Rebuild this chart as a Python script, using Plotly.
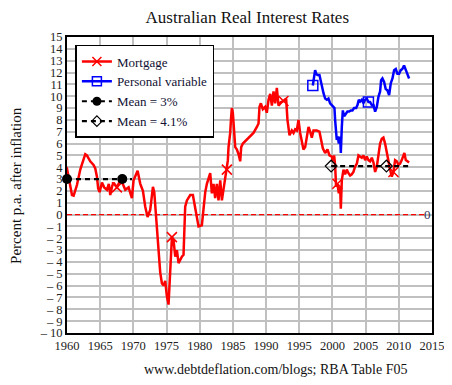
import numpy as np
import plotly.graph_objects as go

# ---------------- data ----------------
mortgage_years = [
    1959.1, 1959.6, 1960.0, 1960.4, 1960.75, 1961.0, 1961.5, 1962.0, 1962.4, 1962.75,
    1963.0, 1963.5, 1964.0, 1964.26, 1964.51, 1964.7, 1964.91, 1965.27, 1965.6, 1966.02,
    1966.3, 1966.52, 1966.8, 1967.02, 1967.52, 1968.03, 1968.4, 1968.78, 1969.28, 1969.78,
    1970.03, 1970.44, 1970.64, 1971.04, 1971.44, 1971.79, 1972.14, 1972.54, 1972.95, 1973.15,
    1973.55, 1973.8, 1974.05, 1974.3, 1974.55, 1974.8, 1975.05, 1975.3, 1975.56, 1975.81,
    1976.06, 1976.31, 1976.56, 1976.81, 1977.31, 1977.56, 1977.81, 1978.07, 1978.57, 1978.97,
    1979.32, 1979.57, 1979.82, 1980.32, 1980.58, 1980.83, 1981.08, 1981.58, 1981.83, 1982.08,
    1982.33, 1982.58, 1982.83, 1983.09, 1983.34, 1983.59, 1983.84, 1984.09, 1984.24, 1984.34,
    1984.59, 1984.74, 1984.84, 1984.99, 1985.19, 1985.35, 1985.6, 1985.85, 1986.1, 1986.25,
    1986.5, 1986.85, 1987.2, 1987.6, 1988.1, 1988.61, 1988.86, 1989.01, 1989.21, 1989.51,
    1989.86, 1990.11, 1990.37, 1990.62, 1990.87, 1991.12, 1991.37, 1991.62, 1991.87, 1992.22,
    1992.62, 1993.02, 1993.22, 1993.53, 1993.88, 1994.13, 1994.38, 1994.63, 1994.88, 1995.13,
    1995.38, 1995.63, 1995.89, 1996.14, 1996.39, 1996.64, 1996.89, 1997.14, 1997.64, 1998.04,
    1998.24, 1998.55, 1998.9, 1999.25, 1999.55, 1999.9, 2000.05, 2000.25, 2000.4, 2000.55,
    2000.75, 2000.96, 2001.16, 2001.26, 2001.41, 2001.66, 2001.91, 2002.16, 2002.41, 2002.66,
    2002.91, 2003.16, 2003.41, 2003.67, 2003.92, 2004.17, 2004.42, 2004.67, 2004.92, 2005.17,
    2005.42, 2005.67, 2005.93, 2006.18, 2006.43, 2006.68, 2006.93, 2007.18, 2007.43, 2007.68,
    2007.93, 2008.18, 2008.43, 2008.69, 2008.94, 2009.19, 2009.44, 2009.69, 2009.94, 2010.19,
    2010.44, 2010.69, 2010.84, 2011.05, 2011.3, 2011.55,
]
mortgage_rate = [
    4.3, 4.2, 3.9, 2.6, 1.65, 1.6, 2.5, 3.8, 4.4, 5.1,
    5.0, 4.5, 4.2, 3.9, 3.2, 2.2, 1.9, 2.7, 2.3, 2.1,
    2.6, 1.65, 2.4, 2.7, 2.3, 2.9, 2.6, 2.1, 2.3, 1.4,
    2.9, 3.5, 3.7, 2.6, 2.0, 0.67, -0.2, 0.4, 2.35, 1.9,
    -1.3, -3.55, -4.9, -5.8, -6.0, -5.6, -6.9, -7.6, -4.9, -1.9,
    -2.2, -3.55, -3.0, -4.1, -3.55, -3.4, 0.67, 1.2, 1.65, 1.65,
    0.55, -0.45, -1.0, -0.9, 0.67, 1.9, 2.6, 3.5, 1.8, 2.6,
    1.4, 2.6, 1.2, 2.9, 1.2, 2.1, 3.2, 3.8, 4.6, 5.7,
    6.9, 8.3, 9.0, 8.6, 7.1, 5.7, 5.5, 5.1, 4.5, 5.7,
    6.0, 6.2, 6.4, 6.6, 6.9, 7.4, 7.7, 9.1, 9.4, 8.9,
    9.1, 8.6, 9.7, 10.2, 9.2, 10.4, 9.4, 10.7, 9.2, 9.5,
    9.6, 9.8, 8.0, 6.7, 7.1, 6.9, 7.2, 7.1, 8.0, 6.9,
    6.3, 5.5, 5.7, 6.6, 7.4, 7.0, 6.5, 7.1, 7.1, 7.0,
    6.3, 5.6, 5.2, 5.5, 5.0, 4.9, 4.5, 5.0, 4.2, 2.35,
    2.6, 1.8, 2.35, 0.5, 2.9, 3.8, 3.4, 3.8, 3.5, 3.3,
    3.4, 3.6, 4.05, 4.3, 5.0, 4.9, 4.8, 5.0, 4.6, 4.9,
    4.6, 4.5, 4.8, 4.4, 3.6, 4.05, 4.9, 6.0, 6.4, 6.5,
    6.0, 5.2, 4.6, 3.8, 3.2, 3.6, 4.6, 4.5, 4.2, 4.3,
    4.6, 5.0, 5.2, 4.6, 4.5, 4.4,
]

personal_years = [
    1997.04, 1997.29, 1997.39, 1997.54, 1997.74, 1998.04, 1998.24, 1998.4, 1998.65, 1998.9,
    1999.15, 1999.4, 1999.65, 1999.9, 2000.15, 2000.3, 2000.4, 2000.55, 2000.65, 2000.8,
    2000.96, 2001.16, 2001.26, 2001.41, 2001.56, 2001.76, 2002.01, 2002.26, 2002.51, 2002.76,
    2003.01, 2003.26, 2003.57, 2003.77, 2003.97, 2004.17, 2004.42, 2004.67, 2004.92, 2005.17,
    2005.42, 2005.67, 2005.93, 2006.18, 2006.43, 2006.68, 2006.93, 2007.18, 2007.33, 2007.53,
    2007.78, 2008.03, 2008.28, 2008.54, 2008.79, 2009.04, 2009.29, 2009.54, 2009.79, 2010.04,
    2010.29, 2010.54, 2010.79, 2011.05, 2011.3, 2011.55,
]
personal_rate = [
    10.9, 11.65, 12.2, 11.9, 11.8, 11.8, 11.2, 10.8, 10.25, 9.8,
    9.7, 9.8, 9.4, 9.25, 9.1, 9.0, 8.0, 6.9, 6.3, 6.6,
    6.0, 6.6, 5.2, 7.4, 8.8, 8.3, 8.5, 8.7, 8.7, 8.8,
    8.8, 9.0, 9.0, 9.25, 9.7, 9.55, 9.7, 9.4, 9.7, 9.8,
    9.5, 9.5, 9.25, 9.25, 8.7, 9.1, 9.95, 10.4, 11.35, 11.5,
    11.2, 10.6, 10.5, 10.1, 11.1, 11.5, 12.2, 12.3, 11.9, 11.9,
    12.2, 12.3, 12.6, 12.2, 11.8, 11.5,
]

mean3_years = [1960.0, 1968.33, 1969.8]
mean3_vals = [3.0, 3.0, 3.0]
mean41_years = [1999.8, 2008.13, 2011.55]
mean41_vals = [4.1, 4.1, 4.1]

x_tick_vals = list(range(1960, 2016, 5))
y_tick_vals = list(range(-10, 16))
y_tick_text = [str(v) if v >= 0 else "\u2013 " + str(-v) for v in y_tick_vals]

legend_names = ["Mortgage", "Personal variable", "Mean = 3%", "Mean = 4.1%"]

# ---------------- figure ----------------
FONT = "Liberation Serif"
MARK_PERIOD = 100 / 12.0  # a marker every 100 monthly observations


def marker_idx(xs):
    xs = np.asarray(xs)
    idx = []
    t = xs[0]
    while t <= xs[-1] + 1e-9:
        i = int(np.argmin(np.abs(xs - t)))
        if i not in idx:
            idx.append(i)
        t += MARK_PERIOD
    return idx


series = [
    dict(x=mortgage_years, y=mortgage_rate, color="#ff0000", width=2.5, dash="solid",
         symbol="x-thin-open", msize=10, mline=1.5, mcolor="#ff0000"),
    dict(x=personal_years, y=personal_rate, color="#0000ff", width=2.5, dash="solid",
         symbol="square-open", msize=10, mline=1.5, mcolor="#0000ff"),
    dict(x=mean3_years, y=mean3_vals, color="#000000", width=2.2, dash="5px,4px",
         symbol="circle", msize=10, mline=0, mcolor="#000000"),
    dict(x=mean41_years, y=mean41_vals, color="#000000", width=2.2, dash="5px,4px",
         symbol="diamond-open", msize=9, mline=1.2, mcolor="#000000"),
]

fig = go.Figure()

for name, s in zip(legend_names, series):
    fig.add_trace(go.Scatter(
        x=s["x"], y=s["y"], mode="lines", showlegend=False, hoverinfo="skip",
        line=dict(color=s["color"], width=s["width"], dash=s["dash"]),
    ))
    idx = marker_idx(s["x"])
    fig.add_trace(go.Scatter(
        x=[s["x"][i] for i in idx], y=[s["y"][i] for i in idx], mode="markers",
        showlegend=False, hoverinfo="skip", cliponaxis=False,
        marker=dict(symbol=s["symbol"], size=s["msize"], color=s["mcolor"],
                    line=dict(color=s["mcolor"], width=s["mline"])),
    ))
    fig.add_trace(go.Scatter(
        x=[None], y=[None], mode="lines+markers", name=name,
        line=dict(color=s["color"], width=s["width"], dash=s["dash"]),
        marker=dict(symbol=s["symbol"], size=s["msize"] - 1, color=s["mcolor"],
                    line=dict(color=s["mcolor"], width=s["mline"])),
    ))

# zero reference line
fig.add_shape(type="line", xref="x", yref="y", x0=1960, x1=2013.9, y0=0, y1=0,
              line=dict(color="#ff0000", width=1.3, dash="5px,3px"))
fig.add_annotation(x=2014.3, y=0, xref="x", yref="y", text="0", showarrow=False,
                   font=dict(family=FONT, size=13, color="#333355"))

axis_common = dict(showgrid=True, gridcolor="#c0c0c0", gridwidth=1.5,
                   showline=True, linecolor="black", linewidth=2, mirror=True,
                   zeroline=False, ticks="", automargin=False,
                   ticklabeloverflow="allow",
                   tickfont=dict(family=FONT, size=12.5, color="#222222"))

fig.update_xaxes(range=[1960, 2015], tickvals=x_tick_vals, **axis_common)
fig.update_yaxes(range=[-10, 15], tickvals=y_tick_vals, ticktext=y_tick_text, **axis_common)

# page body has an 8px margin, so the figure is sized/positioned to compensate
W, H = 436, 369
fig.update_layout(
    width=W, height=H,
    margin=dict(l=59, r=12, t=29, b=44),
    paper_bgcolor="white", plot_bgcolor="white",
    font=dict(family=FONT, color="#111111"),
    title=dict(text="Australian Real Interest Rates", x=0.494, xref="paper",
               y=1 - 9 / H, yref="container", xanchor="center", yanchor="middle",
               font=dict(family=FONT, size=17, color="#111111")),
    legend=dict(x=0.023, y=0.973, xanchor="left", yanchor="top",
                bgcolor="white", bordercolor="black", borderwidth=1.5,
                font=dict(family=FONT, size=13, color="#111133"),
                tracegroupgap=0, itemwidth=30),
    showlegend=True,
)

fig.add_annotation(text="Percent p.a. after inflation", xref="paper", yref="paper",
                   x=-0.14, y=0.5, textangle=-90, showarrow=False,
                   xanchor="center", yanchor="middle",
                   font=dict(family=FONT, size=15, color="#111111"))
fig.add_annotation(text="www.debtdeflation.com/blogs; RBA Table F05", xref="paper", yref="paper",
                   x=0.57, y=-0.122, showarrow=False, xanchor="center", yanchor="middle",
                   font=dict(family=FONT, size=14, color="#111111"))

fig.write_html("out.html")
